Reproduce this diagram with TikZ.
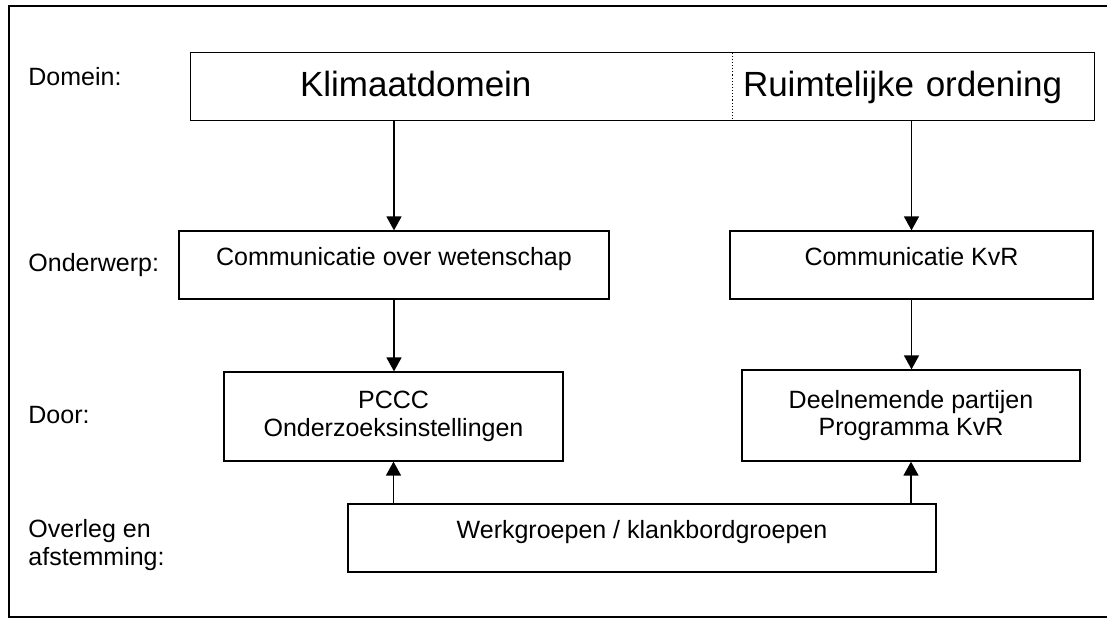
\documentclass[tikz,border=0pt]{standalone}
\usepackage{fontspec}
\setmainfont{Liberation Sans}
\usetikzlibrary{arrows.meta}
\tikzset{
  box/.style={draw,line width=0.6pt,inner sep=0pt,align=center,
    font=\fontsize{12pt}{13.4pt}\selectfont},
  toptxt/.style={text height=16.32pt,text depth=16.32pt},
  cell/.style={inner sep=0pt,align=left,minimum height=32.16pt,
    text height=20.64pt,text depth=11.52pt,font=\fontsize{16.8pt}{20pt}\selectfont},
  rowlabel/.style={inner sep=0pt,align=left,font=\fontsize{12pt}{13pt}\selectfont},
  arr/.style={line width=0.6pt,-{Triangle[length=6.7pt,width=7.2pt]}}
}
\begin{document}
\begin{tikzpicture}[x=0.48pt,y=-0.48pt]
\useasboundingbox (0,0) rectangle (1107,620);
% Frame
\draw[line width=0.7pt] (9,6) rectangle (1109,617);

% Row labels
\node[rowlabel,anchor=base west] (lDomein) at (28,85) {Domein:};
\node[rowlabel,anchor=base west] (lOnderwerp) at (28,271) {Onderwerp:};
\node[rowlabel,anchor=base west] (lDoor) at (28,423) {Door:};
\node[rowlabel,anchor=west] (lOverleg) at (28,545) {Overleg en\\afstemming:};

% Domain cells
\node[cell,minimum width=259.68pt,text width=155.04pt] (klimaat) at (461.5,86.5) {Klimaatdomein};
\node[cell,minimum width=173.76pt,text width=163.2pt] (ruimte) at (913,86.5) {Ruimtelijke ordening};
\draw[line width=0.6pt] (klimaat.north west) rectangle (ruimte.south east);
\draw[densely dotted,line width=0.5pt] (klimaat.north east) -- (klimaat.south east);

% Onderwerp
\node[box,toptxt,minimum width=206.4pt,minimum height=32.64pt] (onderwerpL) at (394,265) {Communicatie over wetenschap};
\node[box,toptxt,minimum width=174.24pt,minimum height=32.64pt] (onderwerpR) at (911.5,265) {Communicatie KvR};

% Door
\node[box,minimum width=162.72pt,minimum height=42.72pt] (doorL) at (393.5,416.5) {PCCC\\Onderzoeksinstellingen};
\node[box,minimum width=162.24pt,minimum height=43.68pt] (doorR) at (911,415.5) {Deelnemende partijen\\Programma KvR};

% Overleg
\node[box,toptxt,minimum width=282.24pt,minimum height=32.64pt] (werk) at (642,538) {Werkgroepen / klankbordgroepen};

% Arrows
\draw[arr] (klimaat.south -| onderwerpL.north) -- (onderwerpL.north);
\draw[arr] (ruimte.south -| onderwerpR.north) -- (onderwerpR.north);
\draw[arr] (onderwerpL.south) -- (onderwerpL.south |- doorL.north);
\draw[arr] (onderwerpR.south) -- (onderwerpR.south |- doorR.north);
\draw[arr] (werk.north -| doorL.south) -- (doorL.south);
\draw[arr] (werk.north -| doorR.south) -- (doorR.south);
\end{tikzpicture}
\end{document}
